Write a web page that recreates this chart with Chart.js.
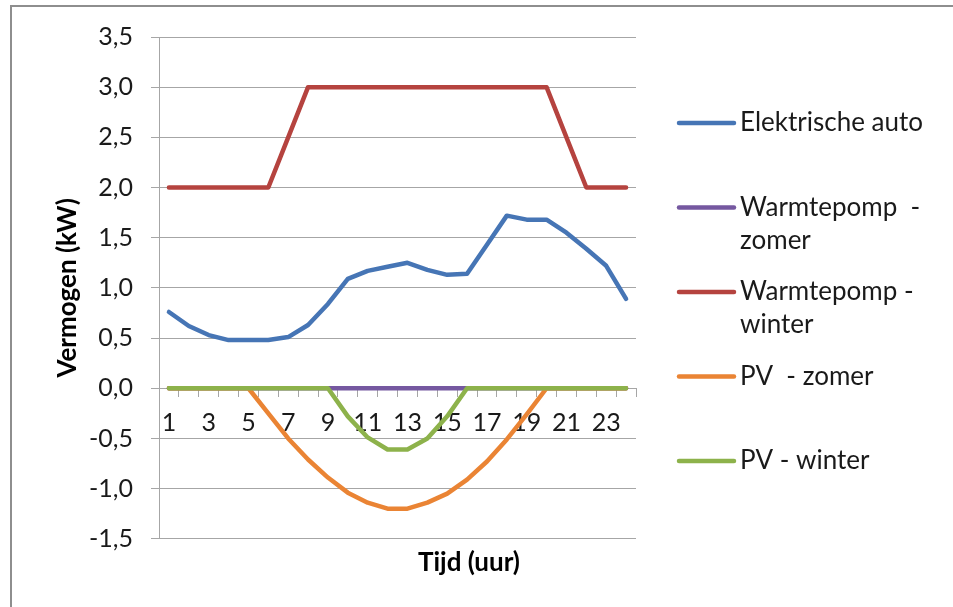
<!DOCTYPE html>
<html>
<head>
<meta charset="utf-8">
<script src="https://cdn.jsdelivr.net/npm/chart.js@4"></script>
<style>
    html, body { margin: 0; padding: 0; background: #fff; overflow: hidden; }
    #wrap { position: relative; width: 953px; height: 607px; }
    #frame { position: absolute; left: 10px; top: 5px; width: 1000px; height: 1000px;
             border: 2px solid #8e8e8e; box-sizing: border-box; }
    canvas { position: absolute; left: 0; top: 0; }
</style>
</head>
<body>
<div id="wrap">
    <div id="frame"></div>
    <canvas id="power-chart" width="953" height="607"></canvas>
</div>
<script>
const hours = ['1', '2', '3', '4', '5', '6', '7', '8', '9', '10', '11', '12',
    '13', '14', '15', '16', '17', '18', '19', '20', '21', '22', '23', '24'];

const elektrischeAuto = [0.76, 0.62, 0.53, 0.48, 0.48, 0.48, 0.51, 0.63, 0.84, 1.09, 1.17, 1.21,
    1.25, 1.18, 1.13, 1.14, 1.43, 1.72, 1.68, 1.68, 1.55, 1.39, 1.22, 0.89];
const warmtepompZomer = [0, 0, 0, 0, 0, 0, 0, 0, 0, 0, 0, 0,
    0, 0, 0, 0, 0, 0, 0, 0, 0, 0, 0, 0];
const warmtepompWinter = [2, 2, 2, 2, 2, 2, 2.5, 3, 3, 3, 3, 3,
    3, 3, 3, 3, 3, 3, 3, 3, 2.5, 2, 2, 2];
const pvZomer = [0, 0, 0, 0, 0, -0.25, -0.5, -0.71, -0.89, -1.04, -1.14, -1.2,
    -1.2, -1.14, -1.05, -0.91, -0.73, -0.51, -0.26, 0, 0, 0, 0, 0];
const pvWinter = [0, 0, 0, 0, 0, 0, 0, 0, 0, -0.28, -0.49, -0.61,
    -0.61, -0.5, -0.28, 0, 0, 0, 0, 0, 0, 0, 0, 0];

const seriesNames = ['Elektrische auto', 'Warmtepomp  - zomer', 'Warmtepomp - winter', 'PV  - zomer', 'PV - winter'];
// how the names wrap in the legend on the right
const legendLines = [
    ['Elektrische auto'],
    ['Warmtepomp  -', 'zomer'],
    ['Warmtepomp -', 'winter'],
    ['PV  - zomer'],
    ['PV - winter']
];
const seriesColors = ['#4675b5', '#7558a0', '#b5433f', '#ea8434', '#8db24b'];

const FONT = 'Lato, "Open Sans", sans-serif';
const GRID = '#a6a6a6';

function makeLine(i, values, order) {
    return {
        label: seriesNames[i],
        data: values,
        borderColor: seriesColors[i],
        backgroundColor: seriesColors[i],
        borderWidth: 4.5,
        borderCapStyle: 'round',
        borderJoinStyle: 'round',
        pointRadius: 0,
        pointHoverRadius: 0,
        tension: 0,
        fill: false,
        order: order
    };
}

// legend drawn next to the plot, with wrapped names like the original
const sideLegend = {
    id: 'sideLegend',
    afterDraw(chart) {
        const c = chart.ctx;
        c.save();
        c.font = '26px ' + FONT;
        c.textBaseline = 'middle';
        c.fillStyle = '#1a1a1a';
        legendLines.forEach((lines, i) => {
            const y = 123 + i * 84.5;
            c.strokeStyle = seriesColors[i];
            c.lineWidth = 4.5;
            c.lineCap = 'round';
            c.beginPath();
            c.moveTo(679, y);
            c.lineTo(734, y);
            c.stroke();
            lines.forEach((txt, j) => c.fillText(txt, 740, y + j * 33));
        });
        c.restore();
    }
};

const ctx = document.getElementById('power-chart').getContext('2d');
const powerChart = new Chart(ctx, {
    type: 'line',
    data: {
        labels: hours,
        datasets: [
            makeLine(0, elektrischeAuto, 4),
            makeLine(1, warmtepompZomer, 3),
            makeLine(2, warmtepompWinter, 2),
            makeLine(3, pvZomer, 1),
            makeLine(4, pvWinter, 0)
        ]
    },
    options: {
        responsive: false,
        animation: false,
        events: [],
        layout: {
            padding: { left: 22, right: 37, top: 37, bottom: 10 }
        },
        plugins: {
            legend: { display: false },
            tooltip: { enabled: false },
            title: {
                display: true,
                position: 'bottom',
                text: 'Tijd (uur)',
                color: '#000',
                font: { family: FONT, size: 26, weight: 'bold' },
                padding: { top: 8, bottom: 19 }
            }
        },
        scales: {
            x: {
                type: 'category',
                position: { y: 0 },
                offset: true,
                grid: {
                    display: true,
                    drawOnChartArea: false,
                    drawTicks: true,
                    tickLength: 8,
                    offset: true,
                    color: GRID
                },
                border: { display: true, color: GRID },
                ticks: {
                    autoSkip: false,
                    maxRotation: 0,
                    padding: 12,
                    color: '#1a1a1a',
                    font: { family: FONT, size: 25 },
                    callback: function (value, index) {
                        return index % 2 === 0 ? hours[index] : '';
                    }
                }
            },
            y: {
                min: -1.5,
                max: 3.5,
                afterFit: function (scale) {
                    scale.width = 159 - 22;
                },
                grid: {
                    color: GRID,
                    drawTicks: true,
                    tickLength: 8
                },
                border: { display: true, color: GRID },
                ticks: {
                    stepSize: 0.5,
                    padding: 18,
                    color: '#1a1a1a',
                    font: { family: FONT, size: 25 },
                    callback: function (value) {
                        return value.toFixed(1).replace('.', ',');
                    }
                },
                title: {
                    display: true,
                    text: 'Vermogen (kW)',
                    color: '#000',
                    font: { family: FONT, size: 26, weight: 'bold' },
                    padding: { top: 30, bottom: 0 }
                }
            },
            // empty right-hand axis: keeps room for the legend
            side: {
                position: 'right',
                display: true,
                afterFit: function (scale) {
                    scale.width = 953 - 37 - 636;
                },
                grid: { display: false },
                border: { display: false },
                ticks: { display: false }
            }
        }
    },
    plugins: [sideLegend]
});
</script>
</body>
</html>
